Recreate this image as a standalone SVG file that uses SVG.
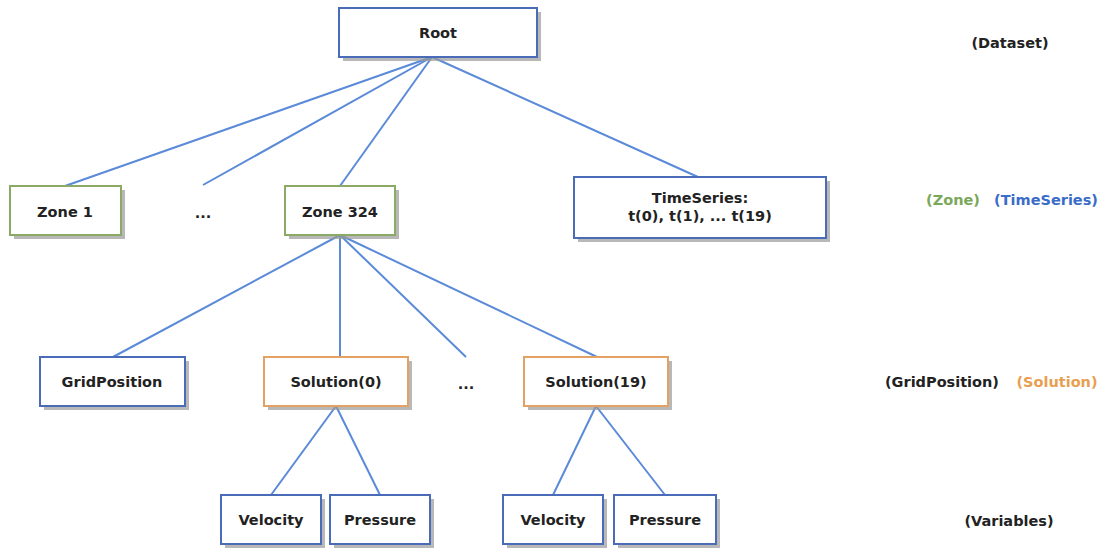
<svg xmlns="http://www.w3.org/2000/svg" width="1104" height="550" viewBox="0 0 1104 550">
<style>
text{font-family:"DejaVu Sans",Verdana,sans-serif;font-weight:bold;font-size:14.5px;fill:#222;text-anchor:middle;dominant-baseline:central}
.box{fill:#fff;stroke-width:2}
.shadow{fill:#9a9a9a;opacity:0.7}
.blue{stroke:#4a6cb8}
.green{stroke:#8aaa66}
.orange{stroke:#e3a264}
.conn line{stroke:#5a8ad8;stroke-width:2}
</style>
<rect width="1104" height="550" fill="#fff"/>
<g class="conn">
<line x1="432" y1="57" x2="65" y2="186"/>
<line x1="432" y1="57" x2="203" y2="185"/>
<line x1="432" y1="57" x2="340" y2="186"/>
<line x1="432" y1="57" x2="698" y2="177"/>
<line x1="340" y1="235" x2="113" y2="357"/>
<line x1="340" y1="235" x2="340" y2="357"/>
<line x1="340" y1="235" x2="466" y2="357"/>
<line x1="340" y1="235" x2="597" y2="357"/>
<line x1="336" y1="406" x2="271" y2="495"/>
<line x1="336" y1="406" x2="380" y2="495"/>
<line x1="596" y1="406" x2="553" y2="495"/>
<line x1="596" y1="406" x2="665" y2="495"/>
</g>
<g id="root"><rect class="shadow" x="343" y="12" width="198" height="49"/><rect class="box blue" x="339" y="8" width="198" height="49"/><text x="438" y="33">Root</text></g>
<g id="zone1"><rect class="shadow" x="14" y="190" width="111" height="49"/><rect class="box green" x="10" y="186" width="111" height="49"/><text x="65" y="212">Zone 1</text></g>
<g id="dots1"><text x="203" y="213">...</text></g>
<g id="zone324"><rect class="shadow" x="289" y="190" width="110" height="49"/><rect class="box green" x="285" y="186" width="110" height="49"/><text x="340" y="212">Zone 324</text></g>
<g id="timeseries"><rect class="shadow" x="578" y="181" width="252" height="61"/><rect class="box blue" x="574" y="177" width="252" height="61"/><text x="700" y="198">TimeSeries:</text><text x="700" y="216">t(0), t(1), ... t(19)</text></g>
<g id="gridposition"><rect class="shadow" x="44" y="361" width="145" height="49"/><rect class="box blue" x="40" y="357" width="145" height="49"/><text x="112" y="382">GridPosition</text></g>
<g id="solution0"><rect class="shadow" x="268" y="361" width="144" height="49"/><rect class="box orange" x="264" y="357" width="144" height="49"/><text x="336" y="382">Solution(0)</text></g>
<g id="dots2"><text x="466" y="384">...</text></g>
<g id="solution19"><rect class="shadow" x="528" y="361" width="144" height="49"/><rect class="box orange" x="524" y="357" width="144" height="49"/><text x="596" y="382">Solution(19)</text></g>
<g id="velocity1"><rect class="shadow" x="225" y="499" width="100" height="49"/><rect class="box blue" x="221" y="495" width="100" height="49"/><text x="271" y="520">Velocity</text></g>
<g id="pressure1"><rect class="shadow" x="334" y="499" width="100" height="49"/><rect class="box blue" x="330" y="495" width="100" height="49"/><text x="380" y="520">Pressure</text></g>
<g id="velocity2"><rect class="shadow" x="507" y="499" width="100" height="49"/><rect class="box blue" x="503" y="495" width="100" height="49"/><text x="553" y="520">Velocity</text></g>
<g id="pressure2"><rect class="shadow" x="618" y="499" width="102" height="49"/><rect class="box blue" x="614" y="495" width="102" height="49"/><text x="665" y="520">Pressure</text></g>
<g id="legend">
<text x="1010" y="43">(Dataset)</text>
<text x="953" y="200" style="fill:#7aa85a">(Zone)</text>
<text x="1046" y="200" style="fill:#3a6cc8">(TimeSeries)</text>
<text x="942" y="382">(GridPosition)</text>
<text x="1057" y="382" style="fill:#e8a050">(Solution)</text>
<text x="1009" y="521">(Variables)</text>
</g>
</svg>
